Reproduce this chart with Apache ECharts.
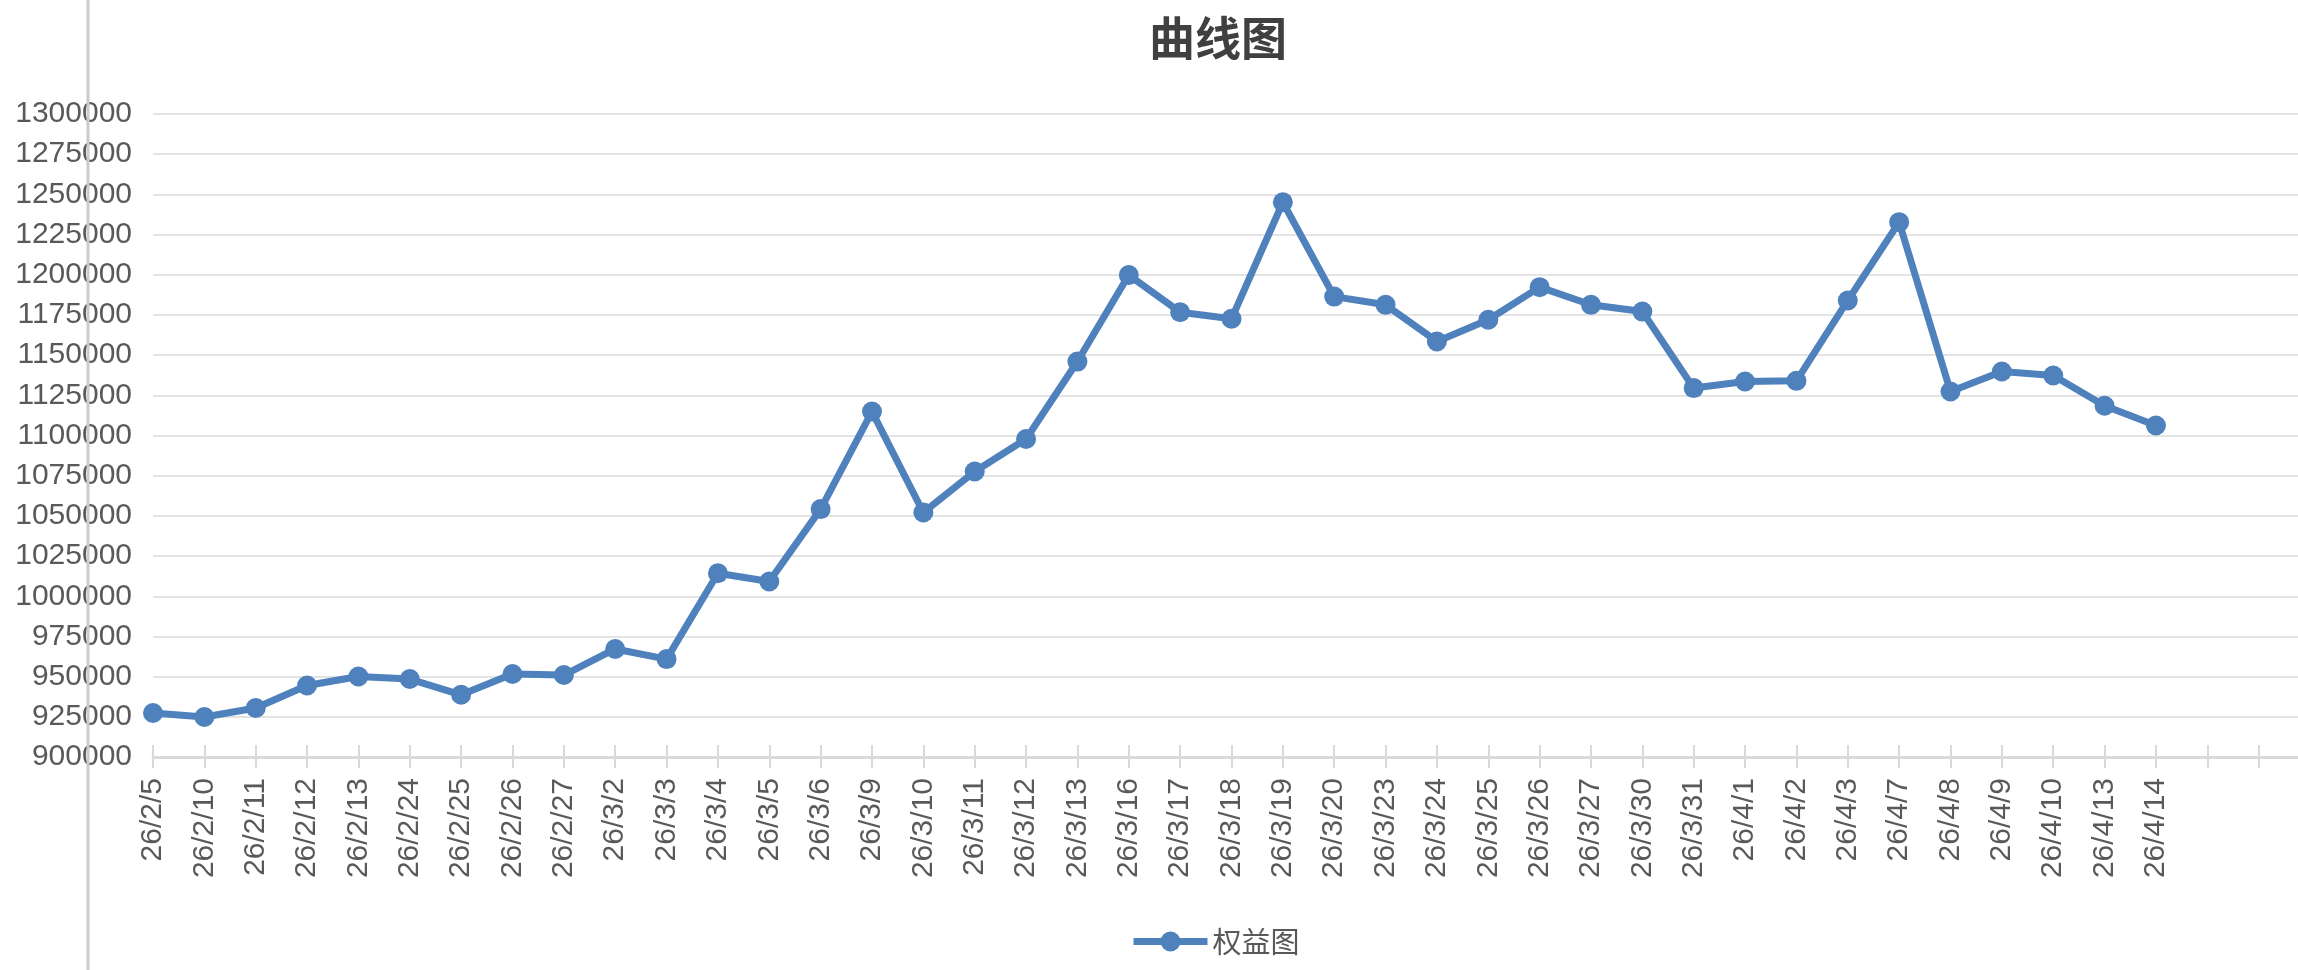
<!DOCTYPE html>
<html>
<head>
<meta charset="utf-8">
<script src="https://cdn.jsdelivr.net/npm/echarts@6/dist/echarts.min.js"></script>
<style>
html,body{margin:0;padding:0;background:#fff;}
#chart{width:2298px;height:970px;}
</style>
</head>
<body>
<div id="chart"></div>
<script>
const titleText = '曲线图';
const seriesName = '权益图';
const dates = ['26/2/5','26/2/10','26/2/11','26/2/12','26/2/13','26/2/24','26/2/25','26/2/26','26/2/27','26/3/2','26/3/3','26/3/4','26/3/5','26/3/6','26/3/9','26/3/10','26/3/11','26/3/12','26/3/13','26/3/16','26/3/17','26/3/18','26/3/19','26/3/20','26/3/23','26/3/24','26/3/25','26/3/26','26/3/27','26/3/30','26/3/31','26/4/1','26/4/2','26/4/3','26/4/7','26/4/8','26/4/9','26/4/10','26/4/13','26/4/14'];
const equity = [927400, 924900, 930500, 944500, 950100, 948500, 938700, 951600, 951000, 967200, 960900, 1014300, 1009200, 1054200, 1114900, 1052100, 1077600, 1097800, 1146000, 1199800, 1176700, 1172600, 1245100, 1186400, 1181300, 1158500, 1172000, 1192300, 1181300, 1177100, 1129500, 1133600, 1134000, 1184000, 1232700, 1127400, 1139800, 1137300, 1118500, 1106200];
const emptySlots = ['', '', ''];
const yMin = 900000, yMax = 1300000, yStep = 25000;

const categories = dates.concat(emptySlots);
const chart = echarts.init(document.getElementById('chart'));
const labelFont = 'Liberation Sans, Arial, sans-serif';
chart.setOption({
  animation: false,
  backgroundColor: '#ffffff',
  title: {
    text: titleText,
    left: 1149, top: 15, padding: 0,
    textStyle: {fontFamily: 'Noto Sans CJK SC', fontWeight: 'bold', fontSize: 46, color: '#404040'}
  },
  legend: {
    data: [seriesName],
    left: 1130, top: 927, padding: 0,
    itemWidth: 74, itemHeight: 25, itemGap: 10,
    lineStyle: {width: 7},
    textStyle: {fontFamily: 'Noto Sans CJK SC', fontSize: 29, color: '#595959'}
  },
  grid: {left: 153, width: 2157, top: 114, bottom: 213, containLabel: false, outerBoundsMode: 'none'},
  xAxis: [{
    type: 'category', data: categories, boundaryGap: false, position: 'bottom',
    axisLine: {show: true, lineStyle: {color: '#d9d9d9', width: 3}},
    axisTick: {show: true, alignWithLabel: true, interval: 0, length: 11, lineStyle: {color: '#d9d9d9', width: 2}},
    axisLabel: {interval: 0, rotate: 90, margin: 21, fontFamily: labelFont, fontSize: 30, color: '#595959'},
    splitLine: {show: false}
  }, {
    type: 'category', data: categories, boundaryGap: false, position: 'bottom',
    axisLine: {show: false},
    axisTick: {show: true, inside: true, interval: 0, length: 12, lineStyle: {color: '#d9d9d9', width: 2}},
    axisLabel: {show: false},
    splitLine: {show: false}
  }],
  yAxis: {
    type: 'value', min: yMin, max: yMax, interval: yStep,
    axisLine: {show: false}, axisTick: {show: false},
    axisLabel: {margin: 21, fontFamily: labelFont, fontSize: 30, color: '#595959', formatter: function (v) { return String(v); }},
    splitLine: {show: true, lineStyle: {color: '#e4e4e4', width: 2}}
  },
  graphic: [{
    type: 'line', z: 100,
    shape: {x1: 88, y1: 0, x2: 88, y2: 970},
    style: {stroke: '#cccccc', lineWidth: 3}
  }],
  series: [{
    name: seriesName, type: 'line', data: equity, xAxisIndex: 0,
    symbol: 'circle', symbolSize: 20,
    lineStyle: {color: '#4F81BD', width: 7},
    itemStyle: {color: '#4F81BD'},
    z: 3
  }]
});
</script>
</body>
</html>
